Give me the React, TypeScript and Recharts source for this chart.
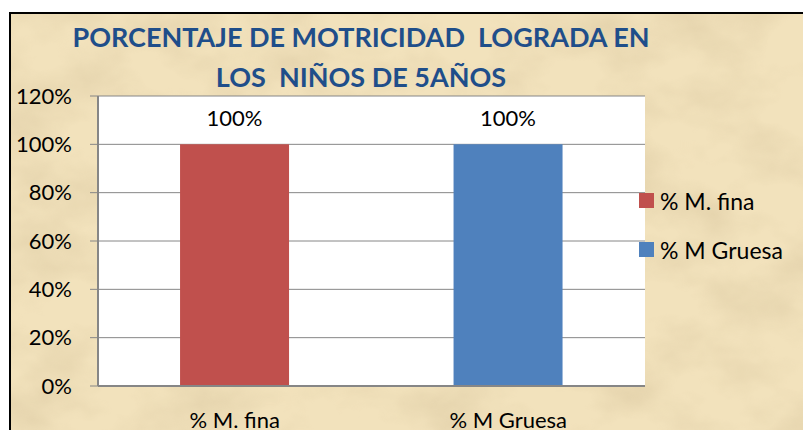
import React from 'react';
import { BarChart, Bar, XAxis, YAxis, CartesianGrid, Cell, LabelList, Legend } from 'recharts';

const categories = ['% M. fina', '% M Gruesa'];
const values = [1.0, 1.0];
const colors = ['#C0504D', '#4F81BD'];
const yTicks = [0, 0.2, 0.4, 0.6, 0.8, 1.0, 1.2];
const boundaryTicks = [0, 1, 2];
const titleLines = ['PORCENTAJE DE MOTRICIDAD  LOGRADA EN', 'LOS  NIÑOS DE 5AÑOS'];

const data = categories.map((c, i) => ({ name: c, value: values[i] }));

const FONT = 'Lato, "Open Sans", sans-serif';
const pct = (v: number) => `${Math.round(v * 100)}%`;

const LegendContent = () => (
  <div style={{ fontFamily: FONT, fontSize: 23, color: '#000', whiteSpace: 'nowrap' }}>
    {categories.map((c, i) => (
      <div key={c} style={{ display: 'flex', alignItems: 'center', height: 49 }}>
        <span style={{ display: 'inline-block', width: 15, height: 15, background: colors[i], marginRight: 6 }} />
        <span style={{ whiteSpace: 'pre' }}>{c}</span>
      </div>
    ))}
  </div>
);

export default function App() {
  return (
    <div style={{ position: 'absolute', left: 0, top: 0, width: 803, height: 430, overflow: 'hidden', background: '#fff' }}>
      <svg width={803} height={430} style={{ position: 'absolute', left: 0, top: 0 }}>
        <defs>
          <filter id="paper" x="0" y="0" width="100%" height="100%">
            <feTurbulence type="fractalNoise" baseFrequency="0.012 0.018" numOctaves={4} seed={7} result="n" />
            <feColorMatrix in="n" type="matrix" values="0 0 0 0 0.6  0 0 0 0 0.48  0 0 0 0 0.28  1.6 0 0 0 -0.62" />
          </filter>
        </defs>
        <rect x={10} y={13} width={900} height={500} fill="#F2E2BC" />
        <rect x={10} y={13} width={900} height={500} filter="url(#paper)" opacity={0.42} />
        <rect x={10} y={13} width={900} height={500} fill="none" stroke="#000" strokeWidth={2} />
        {titleLines.map((t, i) => (
          <text key={i} x={361} y={47 + i * 40} textAnchor="middle" fontFamily={FONT} fontWeight={700} fontSize={27} fill="#1F4E8A" style={{ whiteSpace: 'pre' }}>
            {t}
          </text>
        ))}
      </svg>
      <div style={{ position: 'absolute', left: 0, top: 0 }}>
        <BarChart width={803} height={430} data={data} margin={{ top: 96, right: 8, bottom: 0, left: 0 }} barCategoryGap="30%">
          <CartesianGrid horizontal vertical={false} fill="#fff" stroke="#868686" strokeWidth={1} />
          <XAxis
            dataKey="name"
            height={44}
            tickLine={false}
            tickSize={0}
            tickMargin={26}
            axisLine={{ stroke: '#868686', strokeWidth: 2 }}
            tick={{ fill: '#000', fontSize: 22, fontFamily: FONT }}
          />
          <XAxis
            xAxisId="b"
            type="number"
            domain={[0, 2]}
            ticks={boundaryTicks}
            height={0}
            axisLine={false}
            tickSize={8}
            tickLine={{ stroke: '#868686', strokeWidth: 2 }}
            tickFormatter={() => ''}
          />
          <YAxis
            width={98}
            domain={[0, 1.2]}
            ticks={yTicks}
            tickFormatter={pct}
            tickSize={8}
            tickMargin={18}
            axisLine={{ stroke: '#868686', strokeWidth: 2 }}
            tickLine={{ stroke: '#868686', strokeWidth: 1 }}
            tick={{ fill: '#000', fontSize: 22, fontFamily: FONT }}
            interval={0}
          />
          <Legend
            layout="vertical"
            align="right"
            verticalAlign="middle"
            content={<LegendContent />}
            wrapperStyle={{ left: 639, top: 176, width: 150, right: 'auto' }}
          />
          <Bar dataKey="value" isAnimationActive={false}>
            {data.map((d, i) => (
              <Cell key={d.name} fill={colors[i]} />
            ))}
            <LabelList dataKey="value" position="top" offset={18} formatter={(v: any) => pct(Number(v))} fill="#000" fontSize={22} fontFamily={FONT} />
          </Bar>
        </BarChart>
      </div>
    </div>
  );
}
